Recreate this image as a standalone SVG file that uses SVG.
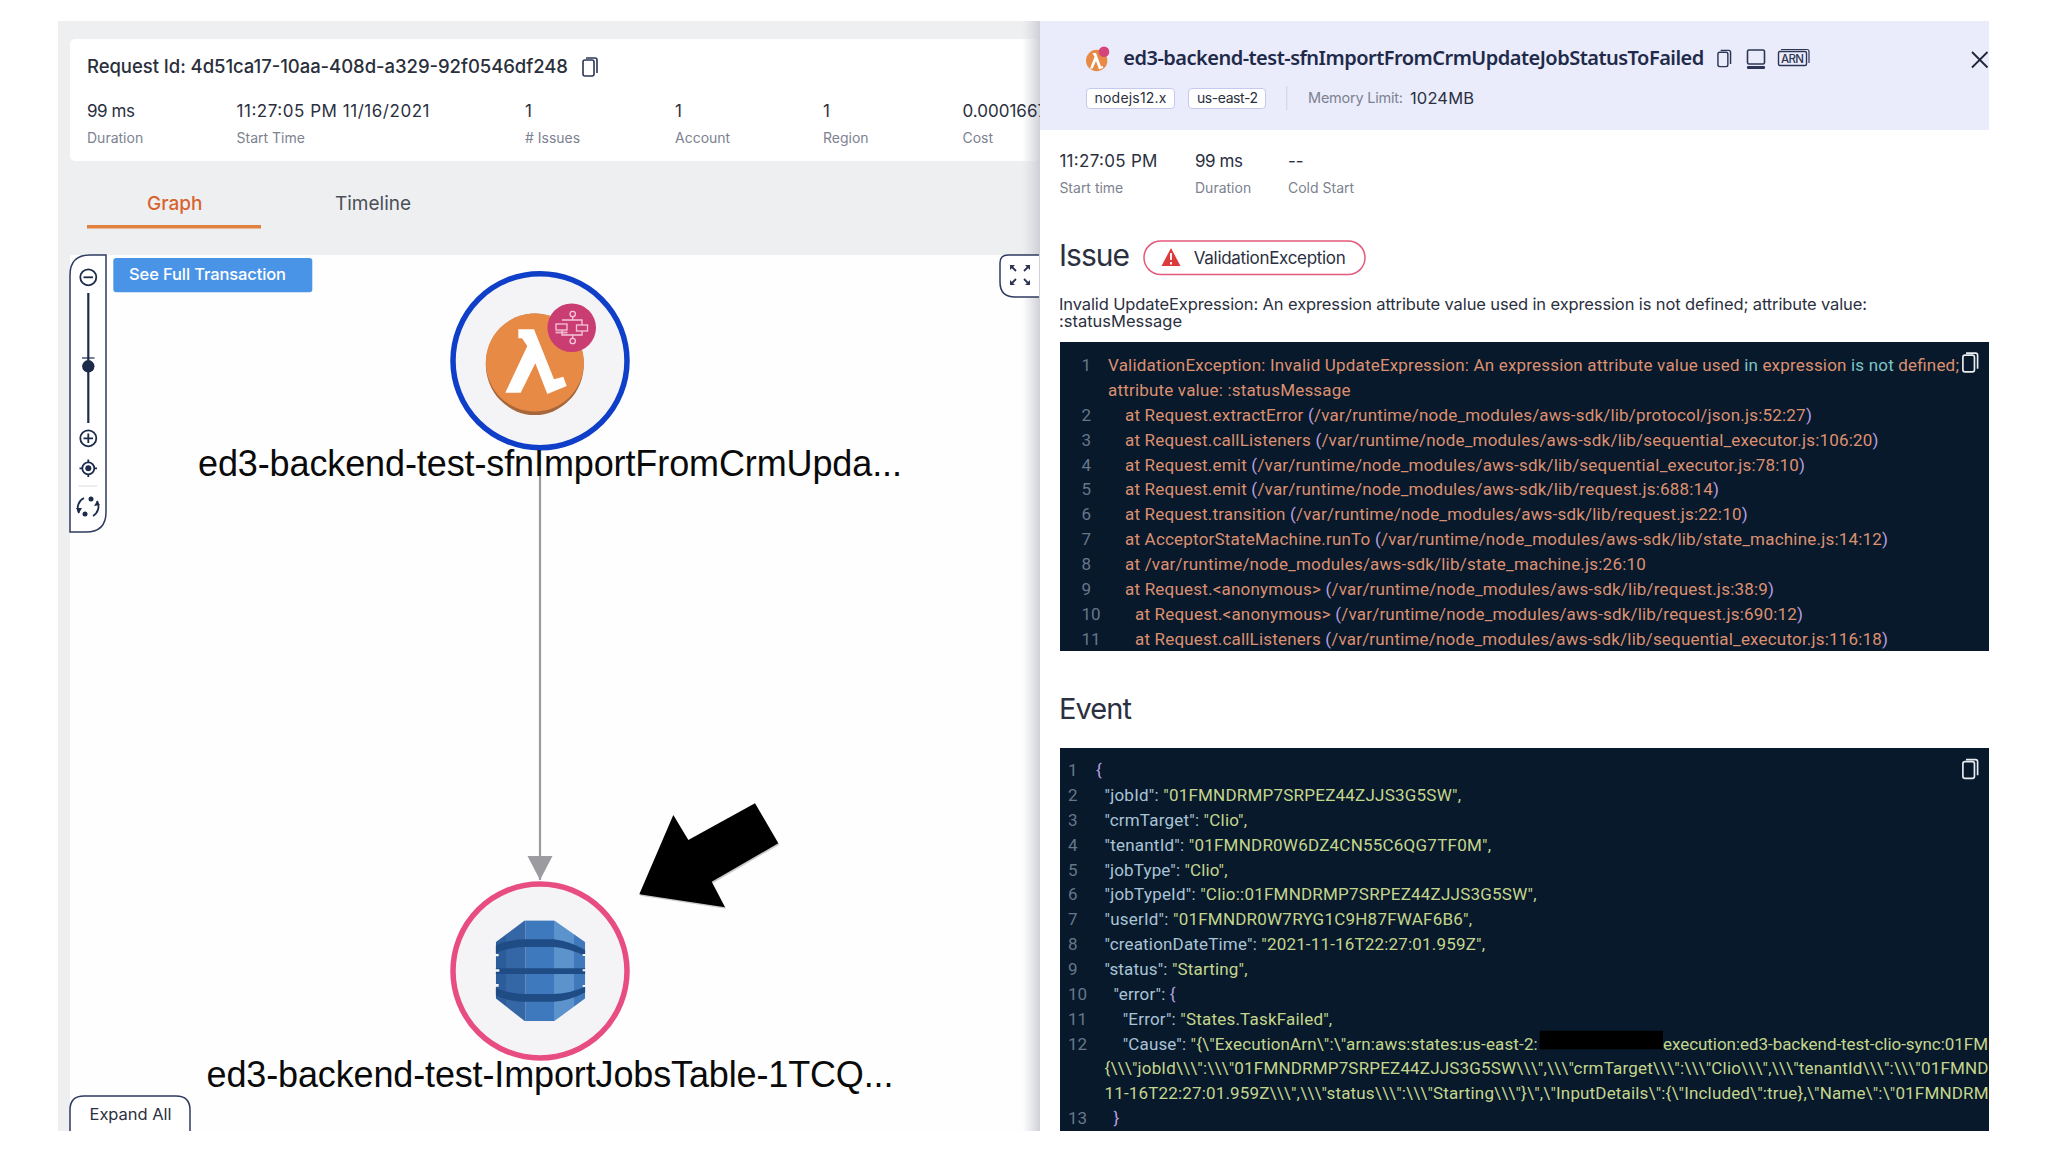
<svg xmlns="http://www.w3.org/2000/svg" width="2048" height="1152" viewBox="0 0 2048 1152">
<style>
text{font-family:Inter,"Noto Sans","Liberation Sans",sans-serif;white-space:pre}
.v{font-size:17px;fill:#2b3040}
.l{font-size:14px;fill:#7d8290}
.big{font-family:"Liberation Sans",Arial,sans-serif;font-size:36px;fill:#0a0a0a}
.c{font-family:Roboto,"Liberation Sans",sans-serif;font-size:17px}
.n{fill:#66778a}
.o{fill:#dc9070}
.t{fill:#7fc4c4}
.p{fill:#b5a0e0}
.k{fill:#a9c4d6}
.s{fill:#c4d68c}
.ic{fill:none;stroke:#2c3654;stroke-width:1.6}
.card{fill:#fff}
</style>
<defs>
<linearGradient id="shade" x1="0" x2="1" y1="0" y2="0"><stop offset="0" stop-color="#d8d9de" stop-opacity="0"/><stop offset="1" stop-color="#cfd0d6"/></linearGradient>
<marker id="head" markerUnits="userSpaceOnUse" markerWidth="26" markerHeight="26" refX="24" refY="12.5" orient="auto"><path d="M0 0 L24 12.5 L0 25 Z" fill="#9c9ca0"/></marker>
<symbol id="copy" viewBox="0 0 16 20" overflow="visible"><rect x="1" y="3" width="11" height="16" rx="2" fill="none" stroke="currentColor" stroke-width="1.6"/><path d="M4 1 H13 Q15 1 15 3 V16" fill="none" stroke="currentColor" stroke-width="1.6"/></symbol>
<clipPath id="octa"><path d="M197 487 L285 421 H372 L466 487 V655 L372 724 H285 L197 655 Z"/></clipPath>
</defs>
<rect width="2048" height="1152" fill="#fff"/>

<g id="left-panel">
<rect x="58" y="21" width="982" height="1110" fill="#eeeff1"/>
<rect x="70" y="39" width="970" height="122" rx="5" class="card"/>
<rect x="70" y="255" width="970" height="876" fill="#fefefe"/>
<rect x="1022" y="21" width="18" height="1110" fill="url(#shade)"/>
</g>

<g id="request-summary">
<text x="87" y="73" font-size="18.5" font-weight="500" fill="#2a2f3c" textLength="481">Request Id: 4d51ca17-10aa-408d-a329-92f0546df248</text>
<use href="#copy" x="582" y="57" width="16" height="20" color="#2c3654"/>
<text class="v" x="87" y="117" textLength="48">99 ms</text><text class="l" x="87" y="143">Duration</text>
<text class="v" x="236.500" y="117" textLength="193">11:27:05 PM 11/16/2021</text><text class="l" x="236.500" y="143">Start Time</text>
<text class="v" x="525" y="117">1</text><text class="l" x="525" y="143"># Issues</text>
<text class="v" x="675" y="117">1</text><text class="l" x="675" y="143">Account</text>
<text class="v" x="823" y="117">1</text><text class="l" x="823" y="143">Region</text>
<text class="v" x="962.500" y="117">0.0001667</text><text class="l" x="962.500" y="143">Cost</text>
</g>

<g id="tabs">
<text x="147" y="210" font-size="19" font-weight="500" fill="#d9632e">Graph</text>
<text x="335" y="210" font-size="19" fill="#4b4f58">Timeline</text>
<rect x="87" y="225" width="174" height="3.500" fill="#e2803f"/>
</g>

<g id="zoom-controls">
<path d="M106 255 H90 Q70 255 70 275 V532 H86 Q106 532 106 512 Z" fill="#fff" stroke="#2e3a5f" stroke-width="1.500"/>
<g fill="none" stroke="#1d2b4b" stroke-width="1.800">
<circle cx="88.300" cy="277.300" r="8"/><path d="M83.500 277.300 H93"/>
<path d="M88.300 293 V423" stroke-width="2.200"/><path d="M82 358 H94.500" stroke-width="1.200"/>
<circle cx="88.300" cy="438.300" r="8"/><path d="M83.500 438.300 H93 M88.300 433.500 V443"/>
<circle cx="88.300" cy="468.300" r="6"/><path d="M88.300 459.500 V462.300 M88.300 474.300 V477 M79.500 468.300 H82.300 M94.300 468.300 H97"/>
<path d="M79 513 A11 11 0 0 1 84 498 M97 501 A11 11 0 0 1 93 516"/>
</g>
<circle cx="88.300" cy="366.300" r="6.200" fill="#1d2b4b"/>
<circle cx="88.300" cy="468.300" r="3" fill="#1d2b4b"/>
<circle cx="91" cy="499" r="2.500" fill="#1d2b4b"/><circle cx="85" cy="514" r="2.500" fill="#1d2b4b"/>
<path d="M76 508 L82 508 L79 513 Z M94 506 L100 505 L97 501 Z" fill="#1d2b4b"/>
<path d="M78 486 H97" stroke="#e6e6e8" stroke-width="1.500"/>
</g>

<g id="see-full-transaction">
<rect x="113.300" y="258" width="199" height="34.300" rx="3" fill="#4a94e8"/>
<text x="129" y="279.700" font-size="16.500" font-weight="500" fill="#fff" textLength="157">See Full Transaction</text>
</g>

<g id="fullscreen-button">
<path d="M1039 255 H1008 Q1000 255 1000 263 V282 Q1000 297 1015 297 H1039" fill="#fff" stroke="#2e3a5f" stroke-width="1.500"/>
<path d="M1011 266 L1016 271 M1029 266 L1024 271 M1011 284 L1016 279 M1029 284 L1024 279" stroke="#2c3654" stroke-width="1.800" fill="none"/>
<path d="M1010 265 H1015 L1010 270 Z M1030 265 H1025 L1030 270 Z M1010 285 H1015 L1010 280 Z M1030 285 H1025 L1030 280 Z" fill="#2c3654"/>
</g>

<g id="connectors">
<path d="M540 448 V880" stroke="#9c9ca0" stroke-width="2.200" fill="none" marker-end="url(#head)"/>
</g>

<g id="node-lambda">
<circle cx="540" cy="360.700" r="87" fill="#f4f4f6" stroke="#0f3fc8" stroke-width="5.500"/>
<ellipse cx="534.800" cy="364.200" rx="49" ry="50.800" fill="#a8673a"/>
<ellipse cx="534.800" cy="362.500" rx="49" ry="49" fill="#e68a45"/>
<path d="M518.300 329.300 H534 L554 379.300 L563.300 376.700 L566.700 386 L547.300 394 L535.300 363.300 L520.700 392.700 H505.300 L527.300 346 L522 338.300 H518.300 Z" fill="#fff"/>
<circle cx="571.700" cy="327.700" r="24.300" fill="#c93d72"/>
<g fill="none" stroke="#f6c6d8" stroke-width="1.300">
<circle cx="572.700" cy="314" r="2.700"/><circle cx="572.700" cy="341" r="2.700"/>
<path d="M572.700 316.700 V320 M572.700 335 V338.300"/>
<rect x="556" y="324" width="11" height="6"/><rect x="576.500" y="325" width="11" height="6"/>
<rect x="556" y="332" width="11" height="1" stroke-width=".8"/>
<path d="M562 320 H582 V325 M582 331 V335 H562 V330"/>
</g>
<text class="big" x="198" y="476" textLength="704">ed3-backend-test-sfnImportFromCrmUpda...</text>
</g>

<g id="node-dynamodb">
<circle cx="540" cy="971" r="87" fill="#f4f4f6" stroke="#e84d82" stroke-width="5.500"/>
<g transform="translate(430 780) scale(.33333)">
<g clip-path="url(#octa)">
<rect x="197" y="421" width="31" height="303" fill="#2c5c99"/>
<rect x="228" y="421" width="59" height="303" fill="#3566a6"/>
<rect x="287" y="421" width="85" height="303" fill="#3e78bd"/>
<rect x="372" y="421" width="60" height="303" fill="#5c93cc"/>
<rect x="432" y="421" width="34" height="303" fill="#3f78bb"/>
<path d="M190 500 Q230 478 285 478 H372 Q425 485 470 513 V530 Q420 505 372 501 H285 Q235 501 190 523 Z" fill="#204c85"/>
<path d="M190 565 H470 V582 H190 Z" fill="#204c85"/>
<path d="M190 620 Q235 642 285 642 H372 Q425 640 470 618 V635 Q420 662 372 665 H285 Q230 665 190 642 Z" fill="#204c85"/>
</g>
<path d="M195 522 H206 V529 H195 Z M195 568 H208 V575 H195 Z M195 612 H206 V620 H195 Z" fill="#f4f4f6"/>
<path d="M468 522 H458 V528 H468 Z M468 568 H458 V574 H468 Z M468 615 H458 V621 H468 Z" fill="#f4f4f6"/>
</g>
<text class="big" x="206.500" y="1087" textLength="687">ed3-backend-test-ImportJobsTable-1TCQ...</text>
</g>

<g id="callout-arrow">
<path d="M755 803.300 L778.300 843.300 L711.700 881.700 L725 907.300 L639.300 894.300 L673.300 815 L688.300 840 Z" fill="#8a8a8a" opacity=".45" transform="translate(1 1.500)"/>
<path d="M755 803.300 L778.300 843.300 L711.700 881.700 L725 907.300 L639.300 894.300 L673.300 815 L688.300 840 Z" fill="#000"/>
</g>

<g id="expand-all">
<path d="M70 1131 V1110 Q70 1096 84 1096 H176 Q190 1096 190 1110 V1131" fill="#fff" stroke="#2e3a5f" stroke-width="1.500"/>
<text x="89.500" y="1120" font-size="16.500" fill="#2b3040" textLength="82">Expand All</text>
</g>

<g id="detail-panel">
<rect x="1040" y="21" width="949" height="1110" fill="#fff"/>
<rect x="1040" y="21" width="949" height="109" fill="#eaecfb"/>
</g>

<g id="detail-header">
<circle cx="1096.700" cy="60.500" r="10.700" fill="#e68a45"/>
<path d="M1092.500 53 H1096 L1101 66.500 L1103 66 V68 L1099 69.500 L1096 61 L1092.700 68.500 H1090 L1094.500 57 Z" fill="#fff"/>
<circle cx="1104" cy="51.700" r="5.300" fill="#d6457a"/>
<text x="1123.300" y="65" style="font-family:'Noto Sans','Liberation Sans',sans-serif" font-size="20" font-weight="600" fill="#1f2a4a" textLength="581">ed3-backend-test-sfnImportFromCrmUpdateJobStatusToFailed</text>
<use href="#copy" x="1716.500" y="49.500" width="15.500" height="18" color="#2c3654"/>
<rect x="1747.500" y="50" width="17" height="14" rx="1.500" class="ic"/>
<rect x="1747" y="66" width="18" height="3" rx="1" fill="#2c3654"/>
<rect x="1778.500" y="51.500" width="28" height="14" rx="1.500" fill="none" stroke="#2c3654" stroke-width="1.400"/>
<path d="M1781 49.500 H1807 Q1809 49.500 1809 51.500 V63" fill="none" stroke="#2c3654" stroke-width="1.200"/>
<text x="1781" y="63" font-size="11.500" font-weight="500" fill="#2c3654" textLength="23">ARN</text>
<path d="M1972 52 L1987.500 67.500 M1987.500 52 L1972 67.500" stroke="#1e2536" stroke-width="1.800"/>
<rect x="1086.500" y="88.500" width="88" height="20" rx="3.500" fill="#fff" stroke="#c5c9ef"/>
<text x="1094.500" y="103" font-size="14" fill="#2b3040" textLength="72">nodejs12.x</text>
<rect x="1188.500" y="88.500" width="77" height="20" rx="3.500" fill="#fff" stroke="#c5c9ef"/>
<text x="1197" y="103" font-size="14" fill="#2b3040" textLength="61">us-east-2</text>
<path d="M1286.700 86 V110" stroke="#d3d5e8" stroke-width="1.200"/>
<text x="1308" y="103" font-size="14.500" fill="#7d8290" textLength="95">Memory Limit:</text>
<text x="1410" y="103.500" font-size="16.500" fill="#2b3040" textLength="64">1024MB</text>
</g>

<g id="detail-stats">
<text class="v" x="1059.400" y="167" textLength="98">11:27:05 PM</text><text class="l" x="1059.400" y="193">Start time</text>
<text class="v" x="1195" y="167" textLength="48">99 ms</text><text class="l" x="1195" y="193">Duration</text>
<text class="v" x="1288" y="167">--</text><text class="l" x="1288" y="193">Cold Start</text>
</g>

<g id="issue">
<text x="1059" y="265.500" font-size="30" fill="#2b3040" textLength="71">Issue</text>
<rect x="1144" y="241" width="221" height="33.500" rx="16.700" fill="#fff" stroke="#e35a7b" stroke-width="1.500"/>
<path d="M1171 248 L1180.500 266 H1161.500 Z" fill="#dd3b3b"/>
<path d="M1171 253 V260 M1171 262 V264.500" stroke="#fff" stroke-width="1.800"/>
<text x="1193.800" y="264" font-size="17" fill="#2b3040" textLength="152">ValidationException</text>
<text x="1059" y="310" font-size="16.500" fill="#2b3040" textLength="808">Invalid UpdateExpression: An expression attribute value used in expression is not defined; attribute value:</text>
<text x="1059" y="327" font-size="16.500" fill="#2b3040" textLength="123">:statusMessage</text>
</g>

<g id="error-code">
<rect x="1060" y="342" width="929" height="309" fill="#08192c"/>
<use href="#copy" x="1961.500" y="352" width="17.500" height="21" color="#e8edf2"/>
<text class="c n" x="1081.500" y="371">1</text>
<text class="c o" x="1108" y="371" textLength="851">ValidationException: Invalid UpdateExpression: An expression attribute value used <tspan class="t">in</tspan> expression <tspan class="t">is not</tspan> defined;</text>
<text class="c o" x="1108" y="395.900" textLength="242.500">attribute value: :statusMessage</text>
<text class="c n" x="1081.500" y="420.700">2</text>
<text class="c o" x="1125" y="420.700" textLength="686.800">at Request.extractError <tspan class="p">(</tspan>/var/runtime/node_modules/aws-sdk/lib/protocol/json.js:52:27<tspan class="p">)</tspan></text>
<text class="c n" x="1081.500" y="445.600">3</text>
<text class="c o" x="1125" y="445.600" textLength="753.500">at Request.callListeners <tspan class="p">(</tspan>/var/runtime/node_modules/aws-sdk/lib/sequential_executor.js:106:20<tspan class="p">)</tspan></text>
<text class="c n" x="1081.500" y="470.500">4</text>
<text class="c o" x="1125" y="470.500" textLength="680">at Request.emit <tspan class="p">(</tspan>/var/runtime/node_modules/aws-sdk/lib/sequential_executor.js:78:10<tspan class="p">)</tspan></text>
<text class="c n" x="1081.500" y="495.400">5</text>
<text class="c o" x="1125" y="495.400" textLength="594">at Request.emit <tspan class="p">(</tspan>/var/runtime/node_modules/aws-sdk/lib/request.js:688:14<tspan class="p">)</tspan></text>
<text class="c n" x="1081.500" y="520.200">6</text>
<text class="c o" x="1125" y="520.200" textLength="622.600">at Request.transition <tspan class="p">(</tspan>/var/runtime/node_modules/aws-sdk/lib/request.js:22:10<tspan class="p">)</tspan></text>
<text class="c n" x="1081.500" y="545.100">7</text>
<text class="c o" x="1125" y="545.100" textLength="763">at AcceptorStateMachine.runTo <tspan class="p">(</tspan>/var/runtime/node_modules/aws-sdk/lib/state_machine.js:14:12<tspan class="p">)</tspan></text>
<text class="c n" x="1081.500" y="570">8</text>
<text class="c o" x="1125" y="570" textLength="520.800">at /var/runtime/node_modules/aws-sdk/lib/state_machine.js:26:10</text>
<text class="c n" x="1081.500" y="594.800">9</text>
<text class="c o" x="1125" y="594.800" textLength="649">at Request.&lt;anonymous&gt; <tspan class="p">(</tspan>/var/runtime/node_modules/aws-sdk/lib/request.js:38:9<tspan class="p">)</tspan></text>
<text class="c n" x="1081.500" y="619.700">10</text>
<text class="c o" x="1135" y="619.700" textLength="668">at Request.&lt;anonymous&gt; <tspan class="p">(</tspan>/var/runtime/node_modules/aws-sdk/lib/request.js:690:12<tspan class="p">)</tspan></text>
<text class="c n" x="1081.500" y="644.600">11</text>
<text class="c o" x="1135" y="644.600" textLength="753">at Request.callListeners <tspan class="p">(</tspan>/var/runtime/node_modules/aws-sdk/lib/sequential_executor.js:116:18<tspan class="p">)</tspan></text>
</g>

<g id="event">
<text x="1059" y="719" font-size="29" fill="#2b3040" textLength="73">Event</text>
<rect x="1060" y="748" width="929" height="383" fill="#08192c"/>
<use href="#copy" x="1961.500" y="758.500" width="17.500" height="21" color="#e8edf2"/>
<text class="c n" x="1068" y="776">1</text><text class="c p" x="1096" y="776">{</text>
<text class="c n" x="1068" y="800.900">2</text><text class="c k" x="1104.500" y="800.900" textLength="356.500">"jobId": <tspan class="s">"01FMNDRMP7SRPEZ44ZJJS3G5SW",</tspan></text>
<text class="c n" x="1068" y="825.700">3</text><text class="c k" x="1104.500" y="825.700" textLength="142.500">"crmTarget": <tspan class="s">"Clio",</tspan></text>
<text class="c n" x="1068" y="850.600">4</text><text class="c k" x="1104.500" y="850.600" textLength="386.500">"tenantId": <tspan class="s">"01FMNDR0W6DZ4CN55C6QG7TF0M",</tspan></text>
<text class="c n" x="1068" y="875.500">5</text><text class="c k" x="1104.500" y="875.500" textLength="123">"jobType": <tspan class="s">"Clio",</tspan></text>
<text class="c n" x="1068" y="900.400">6</text><text class="c k" x="1104.500" y="900.400" textLength="432">"jobTypeId": <tspan class="s">"Clio::01FMNDRMP7SRPEZ44ZJJS3G5SW",</tspan></text>
<text class="c n" x="1068" y="925.200">7</text><text class="c k" x="1104.500" y="925.200" textLength="367.500">"userId": <tspan class="s">"01FMNDR0W7RYG1C9H87FWAF6B6",</tspan></text>
<text class="c n" x="1068" y="950.100">8</text><text class="c k" x="1104.500" y="950.100" textLength="380.500">"creationDateTime": <tspan class="s">"2021-11-16T22:27:01.959Z",</tspan></text>
<text class="c n" x="1068" y="975">9</text><text class="c k" x="1104.500" y="975" textLength="143">"status": <tspan class="s">"Starting",</tspan></text>
<text class="c n" x="1068" y="999.800">10</text><text class="c k" x="1113.600" y="999.800" textLength="62">"error": <tspan class="p">{</tspan></text>
<text class="c n" x="1068" y="1024.700">11</text><text class="c k" x="1122.700" y="1024.700" textLength="209.500">"Error": <tspan class="s">"States.TaskFailed",</tspan></text>
<text class="c n" x="1068" y="1049.600">12</text><text class="c k" x="1122.700" y="1049.600" textLength="415">"Cause": <tspan class="s">"{\"ExecutionArn\":\"arn:aws:states:us-east-2:</tspan></text>
<text class="c s" x="1663" y="1049.600" textLength="325">execution:ed3-backend-test-clio-sync:01FM</text>
<text class="c s" x="1104.500" y="1074.400" textLength="884">{\\\"jobId\\\":\\\"01FMNDRMP7SRPEZ44ZJJS3G5SW\\\",\\\"crmTarget\\\":\\\"Clio\\\",\\\"tenantId\\\":\\\"01FMND</text>
<text class="c s" x="1104.500" y="1099.300" textLength="884">11-16T22:27:01.959Z\\\",\\\"status\\\":\\\"Starting\\\"}\",\"InputDetails\":{\"Included\":true},\"Name\":\"01FMNDRM</text>
<text class="c n" x="1068" y="1124.200">13</text><text class="c p" x="1113.600" y="1124.200">}</text>
<rect x="1539.700" y="1030.700" width="123.300" height="18.600" fill="#000"/>
</g>
</svg>
